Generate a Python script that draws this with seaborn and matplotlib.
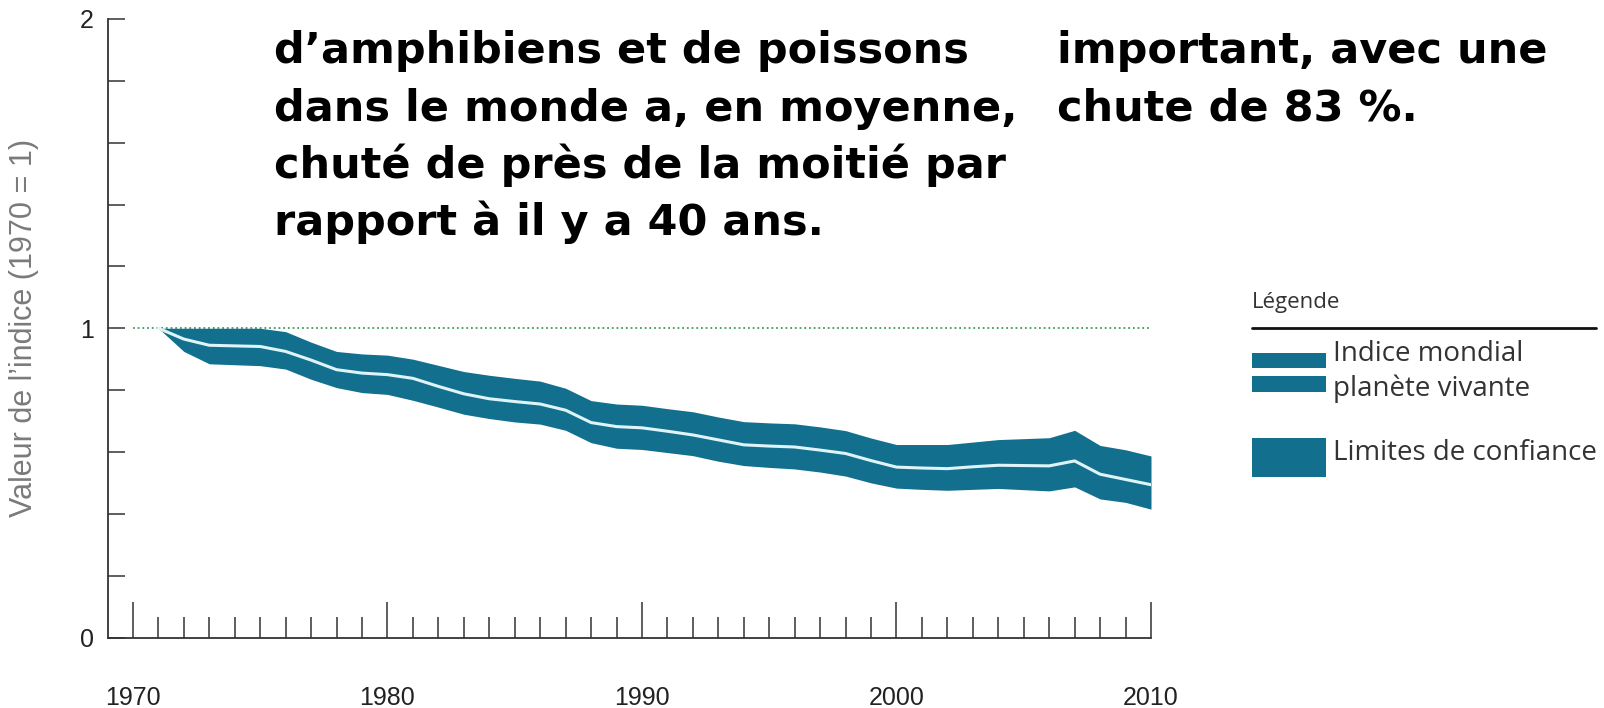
import numpy as np
import pandas as pd
import matplotlib.pyplot as plt
import matplotlib.patches as mpatches
import matplotlib.lines as mlines
from matplotlib.ticker import MultipleLocator
import seaborn as sns

years = list(range(1971, 2011))
indice = [1.000, 0.965, 0.945, 0.943, 0.941, 0.925, 0.897, 0.866, 0.855, 0.850,
          0.838, 0.812, 0.788, 0.772, 0.763, 0.755, 0.735, 0.695, 0.682, 0.678,
          0.667, 0.655, 0.639, 0.623, 0.619, 0.616, 0.606, 0.595, 0.572, 0.551,
          0.548, 0.546, 0.552, 0.557, 0.556, 0.555, 0.571, 0.528, 0.511, 0.494]
upper = [1.000, 1.000, 1.000, 1.000, 1.000, 0.989, 0.955, 0.925, 0.917, 0.913,
         0.900, 0.880, 0.860, 0.848, 0.838, 0.829, 0.806, 0.766, 0.755, 0.751,
         0.740, 0.730, 0.713, 0.698, 0.694, 0.691, 0.681, 0.669, 0.645, 0.624,
         0.624, 0.624, 0.632, 0.640, 0.643, 0.646, 0.670, 0.621, 0.607, 0.587]
lower = [1.000, 0.925, 0.885, 0.882, 0.879, 0.868, 0.835, 0.808, 0.792, 0.786,
         0.767, 0.745, 0.722, 0.708, 0.697, 0.690, 0.670, 0.630, 0.612, 0.608,
         0.598, 0.588, 0.570, 0.556, 0.550, 0.545, 0.535, 0.522, 0.500, 0.483,
         0.479, 0.476, 0.479, 0.482, 0.478, 0.474, 0.487, 0.448, 0.437, 0.415]

df = pd.DataFrame({'year': years, 'indice': indice, 'upper': upper, 'lower': lower})

texte_gauche = ["d’amphibiens et de poissons",
                "dans le monde a, en moyenne,",
                "chuté de près de la moitié par",
                "rapport à il y a 40 ans."]
texte_droite = ["important, avec une",
                "chute de 83 %."]

TEAL = '#12708e'
sns.set_theme(style="white")
plt.rcParams['font.family'] = ['Liberation Sans', 'DejaVu Sans']

W, H = 1604, 708
fig = plt.figure(figsize=(W / 100, H / 100), dpi=100)
ax = fig.add_axes([108 / W, 70.5 / H, (1151 - 108) / W, 618.5 / H])

# reference line at 1
ax.plot([1970, 2010], [1, 1], color='#3f9a60', lw=1.3, ls=(0, (1, 1.6)), zorder=1)

ax.fill_between(df['year'], df['lower'], df['upper'], color=TEAL, lw=0, zorder=2)
sns.lineplot(data=df, x='year', y='indice', color='#dff4f8', lw=2.2, ax=ax, zorder=3)

ax.set_xlim(1969.02, 2010)
ax.set_ylim(0, 2)
sns.despine(ax=ax)
for s in ['left', 'bottom']:
    ax.spines[s].set_color('#333333')
    ax.spines[s].set_linewidth(1.3)

ax.set_xticks([1970, 1980, 1990, 2000, 2010])
ax.xaxis.set_minor_locator(MultipleLocator(1))
ax.set_yticks([0, 1, 2])
ax.yaxis.set_minor_locator(MultipleLocator(0.2))
ax.tick_params(axis='x', which='major', direction='in', length=26, width=1.1,
               color='#333333', pad=35, labelsize=18, labelcolor='#222222', bottom=True)
ax.tick_params(axis='x', which='minor', direction='in', length=15, width=1.1,
               color='#333333', bottom=True)
ax.tick_params(axis='y', which='both', direction='in', length=12, width=1.1,
               color='#333333', left=True)
ax.tick_params(axis='y', which='major', pad=10, labelsize=18, labelcolor='#222222')
ax.set_xlabel('')
ax.set_ylabel('Valeur de l’indice (1970 = 1)', fontsize=22, color='#7a7a7a')
ax.yaxis.set_label_coords(-0.066, 0.5)

# texte en gras
bold = ['DejaVu Sans']
for i, line in enumerate(texte_gauche):
    fig.text(274 / W, 1 - (63 + 57.5 * i) / H, line, fontsize=31, fontweight='bold',
             family=bold, color='black', va='baseline', ha='left')
for i, line in enumerate(texte_droite):
    fig.text(1057 / W, 1 - (63 + 57.5 * i) / H, line, fontsize=31, fontweight='bold',
             family=bold, color='black', va='baseline', ha='left')

# légende
lf = ['Open Sans', 'DejaVu Sans']
fig.text(1252 / W, 1 - 308 / H, 'Légende', fontsize=16, color='#333333',
         family=lf, va='baseline')
fig.add_artist(mlines.Line2D([1252 / W, 1596 / W], [1 - 328 / H, 1 - 328 / H],
                             color='#111111', lw=2))
for y0, y1 in [(353, 368), (376, 392)]:
    fig.add_artist(mpatches.Rectangle((1252 / W, 1 - y1 / H), 74 / W, (y1 - y0) / H,
                                      color=TEAL, lw=0))
fig.add_artist(mpatches.Rectangle((1252 / W, 1 - 477 / H), 74 / W, 39 / H,
                                  color=TEAL, lw=0))
fig.text(1333 / W, 1 - 354 / H, 'Indice mondial', fontsize=20, color='#333333',
         family=lf, va='center')
fig.text(1333 / W, 1 - 389 / H, 'planète vivante', fontsize=20, color='#333333',
         family=lf, va='center')
fig.text(1333 / W, 1 - 453 / H, 'Limites de confiance', fontsize=20, color='#333333',
         family=lf, va='center')

fig.savefig('out.png', dpi=100)
